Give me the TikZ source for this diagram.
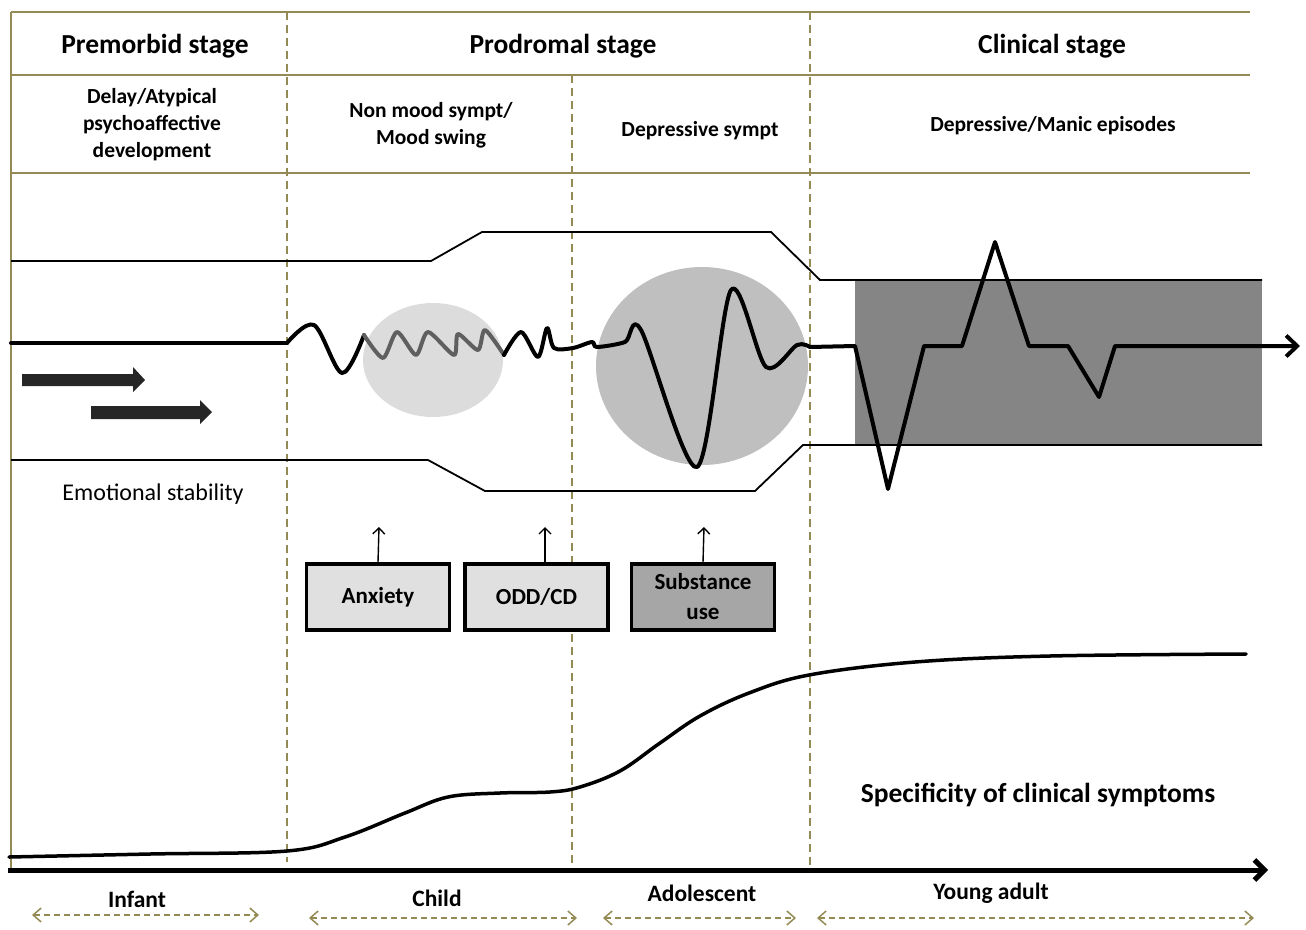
\documentclass[tikz,border=0pt]{standalone}
\usepackage{fontspec}
\setmainfont{Carlito}
\usetikzlibrary{positioning, calc, arrows.meta}

\definecolor{stageline}{HTML}{948A54}
\definecolor{lightblob}{HTML}{DCDCDC}
\definecolor{darkblob}{HTML}{BFBFBF}
\definecolor{clinicalgray}{HTML}{858585}
\definecolor{boxlight}{HTML}{E0E0E0}
\definecolor{boxdark}{HTML}{A6A6A6}
\definecolor{swinggray}{HTML}{5F5F5F}
\definecolor{blockgray}{HTML}{262626}

\begin{document}
\begin{tikzpicture}[x=1pt, y=-1pt, thick]
    % Define styles
    \tikzstyle{gridline} = [draw=stageline, line width=1.8pt]
    \tikzstyle{stagedivider} = [draw=stageline, line width=1.8pt, dash pattern=on 8pt off 5pt]
    \tikzstyle{stagehead} = [font=\fontsize{27.5}{32}\selectfont\bfseries, align=center]
    \tikzstyle{phasetext} = [font=\fontsize{21.5}{27}\selectfont\bfseries, align=center]
    \tikzstyle{tubeline} = [draw, line width=1.8pt]
    \tikzstyle{signalline} = [draw, line width=4pt, line join=round, line cap=round]
    \tikzstyle{factorbox} = [rectangle, draw, line width=3.5pt, fill=boxlight, minimum width=143pt, minimum height=66pt, font=\fontsize{23}{30}\selectfont\bfseries, align=center]
    \tikzstyle{riskarrow} = [line width=1.4pt, -{Straight Barb[length=6pt, width=12pt]}]
    \tikzstyle{agelabel} = [font=\fontsize{23.5}{27}\selectfont\bfseries]
    \tikzstyle{agespan} = [draw=stageline, line width=1.5pt, dash pattern=on 6pt off 4pt, {Straight Barb[length=8pt, width=14pt]}-{Straight Barb[length=8pt, width=14pt]}]

    \useasboundingbox (0,0) rectangle (1306,929);

    % Table frame
    \draw[gridline] (11,12) -- (1250,12);
    \draw[gridline] (11,75) -- (1250,75);
    \draw[gridline] (11,173) -- (1250,173);
    \draw[gridline] (11,12) -- (11,870);
    \draw[stagedivider] (287,12) -- (287,862);
    \draw[stagedivider] (572,75) -- (572,870);
    \draw[stagedivider] (810,12) -- (810,870);

    % Stage headers
    \node[stagehead] (premorbid) at (155,46) {Premorbid stage};
    \node[stagehead] (prodromal) at (563,46) {Prodromal stage};
    \node[stagehead] (clinical) at (1052,46) {Clinical stage};
    \node[phasetext] (delay) at (152,125) {Delay/Atypical\\psychoaffective\\development};
    \node[phasetext] (nonmood) at (431,125) {Non mood sympt/\\Mood swing};
    \node[phasetext] (depsympt) at (700,131) {Depressive sympt};
    \node[phasetext] (episodes) at (1053,126) {Depressive/Manic episodes};

    % Mood blobs and clinical band
    \fill[lightblob] (433,360) ellipse [x radius=70pt, y radius=57pt];
    \fill[darkblob] (702,366) ellipse [x radius=106pt, y radius=99pt];
    \fill[clinicalgray] (855,280) rectangle (1262,445);

    % Stability tube
    \draw[tubeline] (11,261) -- (431,261) -- (482,232) -- (771,232) -- (820,280) -- (1262,280);
    \draw[tubeline] (11,460) -- (428,460) -- (485,491) -- (755,491) -- (803,445) -- (1262,445);

    % Steady progress arrows
    \fill[blockgray] (22,374) -- (133,374) -- (133,367) -- (145,380) -- (133,392) -- (133,386) -- (22,386) -- cycle;
    \fill[blockgray] (91,406) -- (200,406) -- (200,400) -- (212,412) -- (200,424) -- (200,419) -- (91,419) -- cycle;
    \node[font=\fontsize{24}{28}\selectfont] (stability) at (153,494) {Emotional stability};

    % Mood signal
    \draw[signalline] (11,343) -- (287,343);
    \draw[signalline] plot[smooth, tension=0.55] coordinates {(287,343) (314,325) (342,373) (364,335)};
    \draw[signalline, swinggray] plot[smooth, tension=0.45] coordinates {(364,335) (383,358) (397,332) (416,355) (428,332) (454,355) (458,334) (478,350) (485,330) (504,355)};
    \draw[signalline] plot[smooth, tension=0.5] coordinates {(504,355) (521,332) (538,357) (547,328) (554,348) (573,348) (592,342) (597,347) (625,342) (641,330) (697,467) (731,290) (766,367) (797,345) (810,347)};
    \draw[signalline, -{Straight Barb[length=11pt, width=21pt]}] (810,347) -- (855,346) -- (888,489) -- (924,346) -- (962,346) -- (995,242) -- (1029,346) -- (1068,346) -- (1099,397) -- (1115,346) -- (1300,346);

    % Comorbid factors
    \node[factorbox] (anxiety) at (378,597) {Anxiety};
    \node[factorbox, right=12pt of anxiety] (oddcd) {ODD/CD};
    \node[factorbox, fill=boxdark, right=20pt of oddcd] (substance) {Substance\\use};
    \coordinate (anxietyup) at (379,527);
    \coordinate (oddcdup) at (545,527);
    \coordinate (substanceup) at (704,527);
    \draw[riskarrow] (anxiety.north) -- (anxietyup);
    \draw[riskarrow] (oddcdup |- oddcd.north) -- (oddcdup);
    \draw[riskarrow] (substance.north) -- (substanceup);

    % Specificity curve
    \draw[line width=3.5pt, line cap=round] plot[smooth, tension=0.6] coordinates {(9,857) (150,854) (287,851) (345,837) (405,813) (448,797) (500,793) (550,792) (580,787) (620,771) (660,743) (700,716) (749,693) (809,675) (915,662) (1050,656) (1246,654)};
    \node[stagehead] (specificity) at (1038,795) {Specificity of clinical symptoms};

    % Age axis
    \coordinate (axisstart) at (8,870);
    \coordinate (axisend) at (1268,870);
    \draw[line width=5pt, -{Straight Barb[length=10pt, width=20pt]}] (axisstart) -- (axisend);
    \node[agelabel] (infant) at (137,899) {Infant};
    \node[agelabel] (child) at (437,898) {Child};
    \node[agelabel] (adolescent) at (702,893) {Adolescent};
    \node[agelabel] (youngadult) at (991,893) {Young adult};
    \coordinate (infantL) at (32,915);
    \coordinate (infantR) at (259,915);
    \coordinate (childL) at (309,918);
    \coordinate (childR) at (577,918);
    \coordinate (adolescentL) at (603,918);
    \coordinate (adolescentR) at (796,918);
    \coordinate (youngadultL) at (817,918);
    \coordinate (youngadultR) at (1254,918);
    \draw[agespan] (infantL) -- (infantR);
    \draw[agespan] (childL) -- (childR);
    \draw[agespan] (adolescentL) -- (adolescentR);
    \draw[agespan] (youngadultL) -- (youngadultR);
\end{tikzpicture}
\end{document}
